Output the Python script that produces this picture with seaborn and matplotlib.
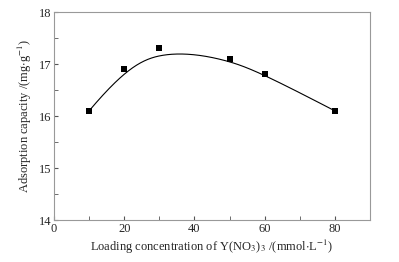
import numpy as np
import matplotlib
matplotlib.use("Agg")
import matplotlib.pyplot as plt
import seaborn as sns
from matplotlib.ticker import MultipleLocator

conc = [10, 20, 30, 50, 60, 80]
capacity = [16.1, 16.9, 17.3, 17.1, 16.8, 16.1]


def bspline(px, py, k=3, num=300):
    # clamped B-spline using the data points as control points
    n = len(px)
    knots = np.concatenate([np.zeros(k), np.arange(n - k + 1), np.full(k, n - k)]).astype(float)
    t = np.linspace(0, n - k, num)
    t[-1] -= 1e-9

    def basis(i, d, t):
        if d == 0:
            return ((knots[i] <= t) & (t < knots[i + 1])).astype(float)
        out = np.zeros_like(t)
        if knots[i + d] != knots[i]:
            out += (t - knots[i]) / (knots[i + d] - knots[i]) * basis(i, d - 1, t)
        if knots[i + d + 1] != knots[i + 1]:
            out += (knots[i + d + 1] - t) / (knots[i + d + 1] - knots[i + 1]) * basis(i + 1, d - 1, t)
        return out

    B = np.array([basis(i, k, t) for i in range(n)])
    return B.T @ np.asarray(px, float), B.T @ np.asarray(py, float)


sns.set_style("ticks")
plt.rcParams['font.family'] = ['Liberation Serif', 'DejaVu Serif']
plt.rcParams['mathtext.fontset'] = 'stix'

fig = plt.figure(figsize=(3.99, 2.62), dpi=100)
ax = fig.add_axes([0.1353, 0.160, 0.792, 0.794])

cx, cy = bspline(conc, capacity)
ax.plot(cx, cy, color='black', lw=0.8)
sns.scatterplot(x=conc, y=capacity, ax=ax, marker='s', s=20, color='black', edgecolor='black', linewidth=0, zorder=3)

ax.set_xlim(0, 90)
ax.set_ylim(14, 18)
ax.xaxis.set_major_locator(MultipleLocator(20))
ax.xaxis.set_minor_locator(MultipleLocator(10))
ax.yaxis.set_major_locator(MultipleLocator(1))
ax.yaxis.set_minor_locator(MultipleLocator(0.5))
ax.tick_params(which='both', direction='in', color='#555555', labelsize=9, pad=2)
ax.tick_params(which='major', length=3)
ax.tick_params(which='minor', length=3)
for s in ax.spines.values():
    s.set_color('#999999')
    s.set_linewidth(0.8)

ax.set_xlabel(r'Loading concentration of Y(NO$_3$)$_3$ /(mmol$\cdot$L$^{-1}$)', fontsize=9, labelpad=2)
ax.set_ylabel(r'Adsorption capacity /(mg$\cdot$g$^{-1}$)', fontsize=9, labelpad=3)

fig.savefig('out.png', dpi=100)
